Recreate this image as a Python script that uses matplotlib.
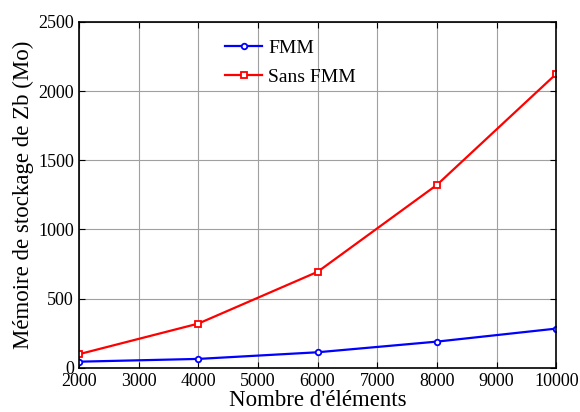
import matplotlib
matplotlib.use("Agg")
import matplotlib.pyplot as plt

elements = [2000, 4000, 6000, 8000, 10000]
fmm = [45, 65, 113, 190, 284]
sans_fmm = [99, 320, 694, 1322, 2124]
xticks = [2000, 3000, 4000, 5000, 6000, 7000, 8000, 9000, 10000]
yticks = [0, 500, 1000, 1500, 2000, 2500]

plt.rcParams['font.family'] = ['Liberation Serif', 'DejaVu Serif']
plt.rcParams['mathtext.fontset'] = 'stix'

fig = plt.figure(figsize=(5.8, 4.12), dpi=100)
ax = fig.add_axes([0.136, 0.107, 0.823, 0.840])

ax.plot(elements, fmm, color='#0000ff', lw=1.6, marker='o', ms=4,
        mfc='white', mec='#0000ff', mew=1.3, label='FMM')
ax.plot(elements, sans_fmm, color='#ff0000', lw=1.6, marker='s', ms=4,
        mfc='white', mec='#ff0000', mew=1.3, label='Sans FMM')

ax.set_xlim(2000, 10000)
ax.set_ylim(0, 2500)
ax.set_xticks(xticks)
ax.set_yticks(yticks)
ax.tick_params(direction='in', labelsize=13, length=4, top=True, right=True)
ax.grid(True, color='#a0a0a0', lw=0.8)
ax.set_axisbelow(True)
for s in ax.spines.values():
    s.set_linewidth(1.2)

ax.set_xlabel("Nombre d'éléments", fontsize=16.5, labelpad=0)
ax.set_ylabel("Mémoire de stockage de Zb (Mo)", fontsize=16.5, labelpad=3)

leg = ax.legend(loc='upper left', bbox_to_anchor=(0.27, 1.0), frameon=False,
                fontsize=14, handlelength=1.9, handletextpad=0.3,
                labelspacing=0.6)

fig.savefig('out.png', dpi=100)
